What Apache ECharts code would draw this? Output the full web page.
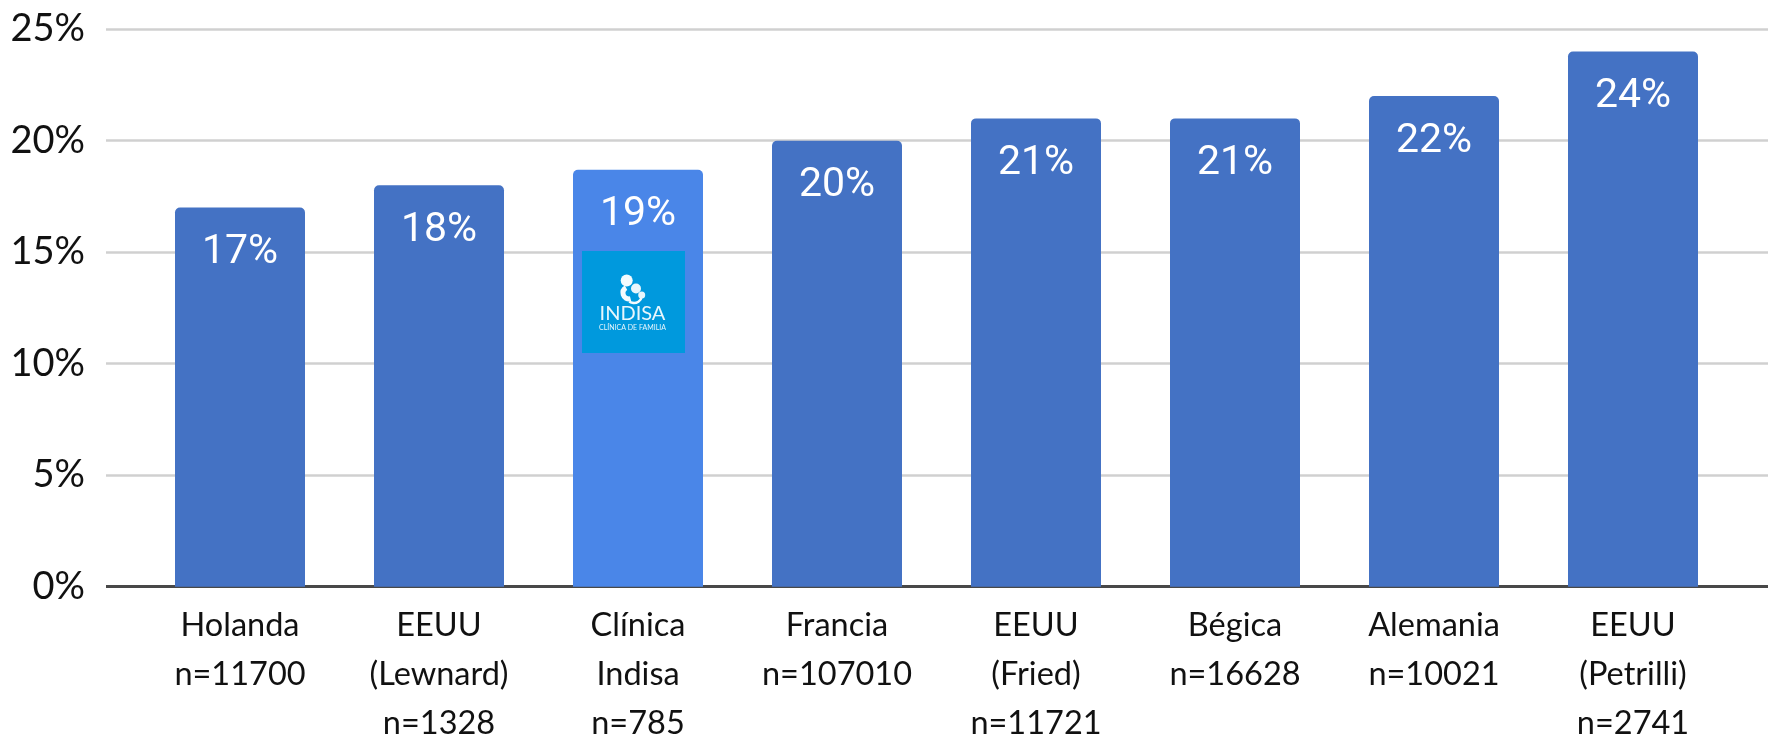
<!DOCTYPE html>
<html><head><meta charset="utf-8">
<style>html,body{margin:0;padding:0;background:#fff}#c{width:1773px;height:739px}</style>
<script src="https://cdn.jsdelivr.net/npm/echarts@6/dist/echarts.min.js"></script>
</head><body><div id="c"></div>
<script>
const categories = ["Holanda\nn=11700","EEUU\n(Lewnard)\nn=1328","Clínica\nIndisa\nn=785","Francia\nn=107010","EEUU\n(Fried)\nn=11721","Bégica\nn=16628","Alemania\nn=10021","EEUU\n(Petrilli)\nn=2741"];
const values = [17,18,18.7,20,21,21,22,24];
const highlightIndex = 2;
const yTicks = {min:0,max:25,interval:5};
const FONT = "Lato, Carlito, 'Open Sans', sans-serif";
const chart = echarts.init(document.getElementById('c'),null,{renderer:'canvas'});
const logoZ = 100;
chart.setOption({
  animation:false,
  backgroundColor:'#fff',
  grid:[
    {left:106,width:1662,top:29.2,height:557.5,outerBoundsMode:'none'},
    {left:140.5,width:1592,top:29.2,height:557.5,outerBoundsMode:'none'}
  ],
  xAxis:[
    {gridIndex:0,type:'category',data:categories,show:false},
    {gridIndex:1,type:'category',data:categories,
     axisLine:{show:false},
     axisTick:{show:false},
     axisLabel:{interval:0,color:'#111',fontFamily:FONT,fontSize:32.5,lineHeight:49,margin:14,verticalAlign:'top'}}
  ],
  yAxis:[
    {gridIndex:0,type:'value',...yTicks,
     axisLine:{show:false},axisTick:{show:false},
     splitLine:{show:true,lineStyle:{color:'#D0D0D0',width:2.5}},
     axisLabel:{color:'#111',fontFamily:FONT,fontSize:38,margin:21,formatter:v=>v+'%'}},
    {gridIndex:1,type:'value',...yTicks,show:false,splitLine:{show:false}}
  ],
  series:[
    {type:'bar',xAxisIndex:1,yAxisIndex:1,barWidth:130,z:3,
     data:values.map((v,i)=>({value:v,itemStyle:{color:i===highlightIndex?'#4A86E8':'#4472C4',borderRadius:[5,5,0,0]}})),
     label:{show:true,position:'insideTop',distance:25,color:'#fff',fontFamily:"Roboto, sans-serif",fontWeight:400,fontSize:41,formatter:p=>Math.round(p.value)+'%'}},
    {type:'line',xAxisIndex:0,yAxisIndex:0,data:[],markLine:{silent:true,symbol:'none',label:{show:false},z:2,lineStyle:{color:'#484848',width:3,type:'solid'},data:[{yAxis:0}]}}
  ],
  graphic:[
    {type:'group',x:582,y:251,children:[
      {type:'rect',z:logoZ,shape:{x:0,y:0,width:103,height:102},style:{fill:'#0099DD'}},
      {type:'circle',z:logoZ,shape:{cx:44.7,cy:29.5,r:6},style:{fill:'#F4FBFE'}},
      {type:'arc',z:logoZ,shape:{cx:47,cy:42,r:6,startAngle:1.3,endAngle:4.2},style:{stroke:'#F4FBFE',lineWidth:5,fill:null}},
      {type:'arc',z:logoZ,shape:{cx:52,cy:44,r:8,startAngle:0.2,endAngle:2.2},style:{stroke:'#F4FBFE',lineWidth:2.5,fill:null}},
      {type:'circle',z:logoZ,shape:{cx:54,cy:37.5,r:5},style:{fill:'#E8F6FC'}},
      {type:'circle',z:logoZ,shape:{cx:59.7,cy:44,r:3.5},style:{fill:'#E8F6FC'}},
      {type:'text',z:logoZ,style:{x:50.5,y:63,text:'INDISA',fill:'#E8F6FC',font:"400 20px Lato, sans-serif",align:'center',verticalAlign:'middle'}},
      {type:'text',z:logoZ,style:{x:50.5,y:76.5,text:'CLÍNICA DE FAMILIA',fill:'#E8F6FC',font:"400 7px Lato, sans-serif",align:'center',verticalAlign:'middle'}}
    ]}
  ]
});
</script></body></html>
